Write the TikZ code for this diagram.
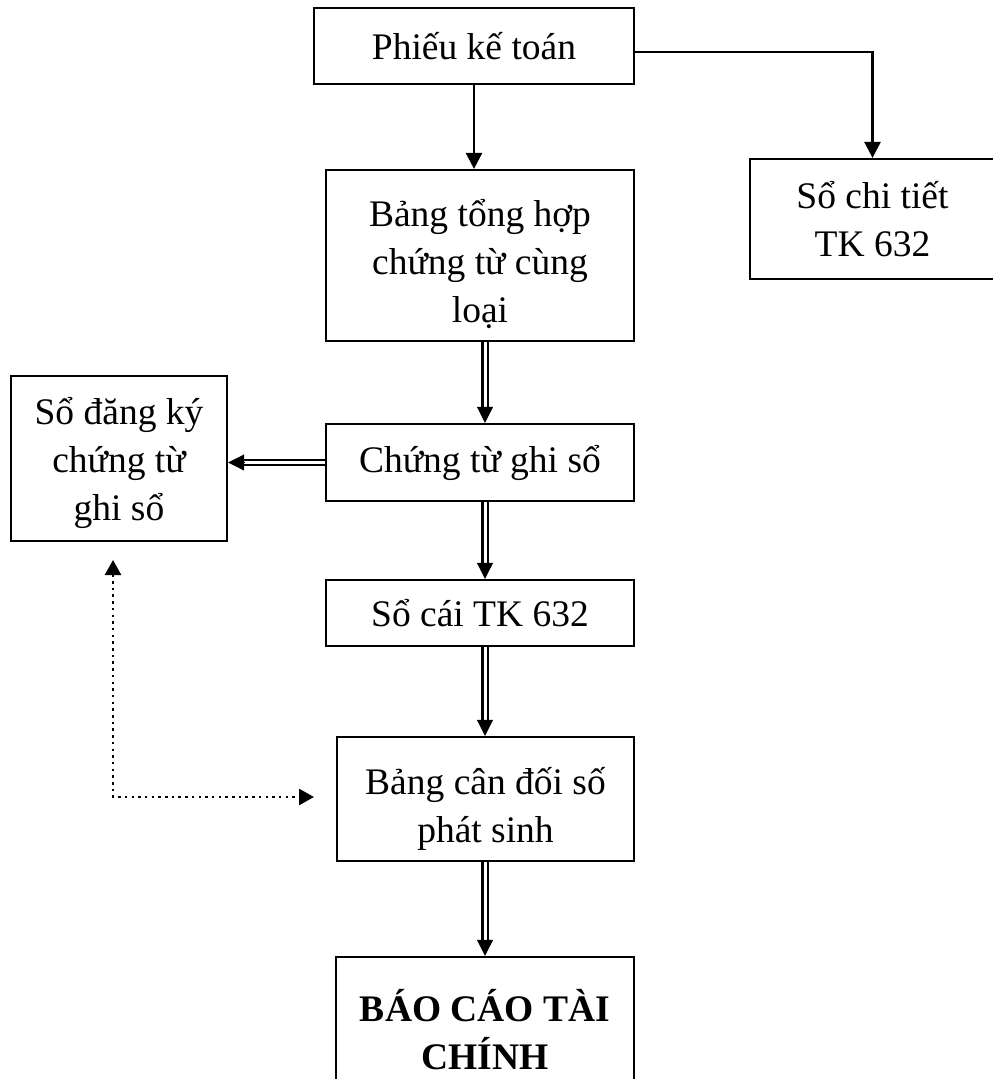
\documentclass[tikz,border=0pt]{standalone}
\usepackage{fontspec}
\setmainfont{Liberation Serif}
\usetikzlibrary{arrows.meta,calc}
% double-lined connector with a solid filled head
\newcommand\dblarrow[2]{%
  \draw[dbl] (#1) -- (#2);
  \draw[dtip] ($(#2)!16pt!(#1)$) -- (#2);}
\begin{document}
\begin{tikzpicture}[x=1pt,y=-1pt,
  txt/.style={align=center, inner sep=0pt, font=\fontsize{37.5}{48}\selectfont},
  frame/.style={draw, line width=2.2pt, inner sep=0pt},
  box/.style={frame, txt},
  single/.style={line width=2.6pt, -{Triangle[length=16pt,width=16pt]}},
  dbl/.style={double, line width=2.3pt, double distance=3pt, shorten >=13pt},
  dtip/.style={line width=0.5pt, -{Triangle[length=16pt,width=16pt]}},
  dots/.style={line width=2.5pt, dash pattern=on 2.5pt off 4.2pt,
    {Triangle[length=15pt,width=16pt]}-{Triangle[length=15pt,width=16pt]}}
]
\useasboundingbox (0,0) rectangle (993,1079);

% boxes
\node[box, minimum width=320pt, minimum height=76pt] (phieu) at (474,46) {Phiếu kế toán};
\node[frame, minimum width=308pt, minimum height=171pt] (bang) at (480,255.5) {};
\node[txt] (bangtext) at ([yshift=-9pt]bang.center) {Bảng tổng hợp\\chứng từ cùng\\loại};
\node[box, minimum width=245pt, minimum height=120pt] (chitiet) at (872.5,219) {Sổ chi tiết\\TK 632};
\node[frame, minimum width=216pt, minimum height=165pt] (dangky) at (119,458.5) {};
\node[txt] (dangkytext) at ([yshift=-4pt]dangky.center) {Sổ đăng ký\\chứng từ\\ghi sổ};
\node[box, minimum width=308pt, minimum height=77pt] (chungtu) at (480,462.5) {Chứng từ ghi sổ};
\node[box, minimum width=308pt, minimum height=66pt] (socai) at (480,613) {Sổ cái TK 632};
\node[frame, minimum width=297pt, minimum height=124pt] (candoi) at (485.5,799) {};
\node[txt] (candoitext) at ([yshift=-10pt]candoi.center) {Bảng cân đối số\\phát sinh};
\node[box, minimum width=298pt, minimum height=146pt,
  font=\fontsize{37.5}{48}\selectfont\bfseries] (baocao) at (485,1030) {BÁO CÁO TÀI\\CHÍNH};

% single arrows from the voucher
\draw[single] (phieu.south) -- (phieu.south |- bang.north);
\draw[single] ([yshift=-6pt]phieu.east) -| (chitiet.north);

% main column of double arrows
\coordinate (col) at (485,0);
\path (bang.south -| col) coordinate (a1)
      (chungtu.north -| col) coordinate (a2)
      (chungtu.south -| col) coordinate (a3)
      (socai.north -| col) coordinate (a4)
      (socai.south -| col) coordinate (a5)
      (candoi.north -| col) coordinate (a6)
      (candoi.south -| col) coordinate (a7)
      (baocao.north -| col) coordinate (a8)
      (dangky.east |- chungtu.west) coordinate (a9);
\dblarrow{a1}{a2}
\dblarrow{a3}{a4}
\dblarrow{a5}{a6}
\dblarrow{a7}{a8}
\dblarrow{chungtu.west}{a9}

% dotted cross-check link
\coordinate (dtop) at (113,560);
\coordinate (dcorner) at (113,797);
\coordinate (dend) at (314,797);
\draw[dots] (dtop) -- (dcorner) -- (dend);
\end{tikzpicture}
\end{document}
